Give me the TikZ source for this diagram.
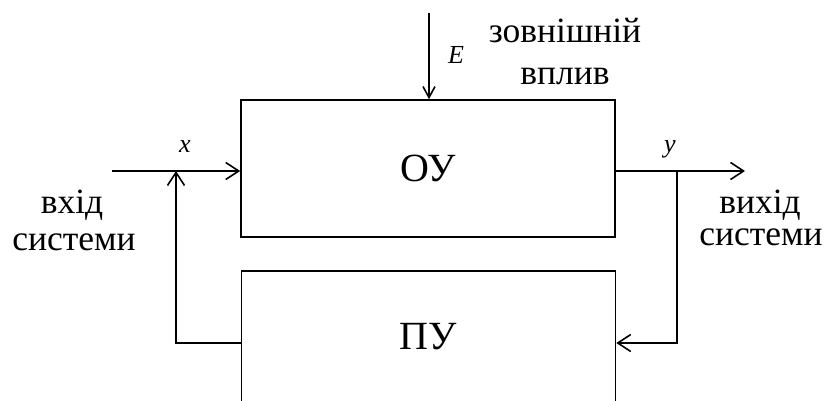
\documentclass[tikz,border=0pt]{standalone}
\usepackage{fontspec}
\setmainfont{Liberation Serif}
\usetikzlibrary{arrows.meta}
\begin{document}
\begin{tikzpicture}[x=1pt,y=-1pt,
  wire/.style={line width=1.6pt},
  arr/.style={wire,-{Straight Barb[length=13pt,width=17pt,line width=1.6pt]}},
  arrsmall/.style={wire,-{Straight Barb[length=11pt,width=12pt,line width=1.6pt]}},
  block/.style={draw,line width=1.6pt,rectangle,minimum width=374pt,inner sep=0pt,
    font=\fontsize{40}{44}\selectfont},
  lbl/.style={font=\fontsize{35.5}{40}\selectfont,anchor=base,inner sep=0pt},
  var/.style={font=\fontsize{26}{30}\selectfont\itshape,anchor=base,inner sep=0pt}]
  \clip (0,0) rectangle (825,401);
  \fill[white] (0,0) rectangle (825,401);

  % controlled object and controller
  \node[block,minimum height=137pt] (ou) at (428,168.5) {ОУ};
  \node[block,minimum height=132pt] (pu) at (428.5,337) {ПУ};

  % junctions and free ends
  \coordinate (xin) at (112,171);
  \coordinate (jx) at (176,171);
  \coordinate (jy) at (677,171);
  \coordinate (yout) at (745,171);
  \coordinate (fb) at (176,343);
  \coordinate (etop) at (429,13);

  % signal paths
  \draw[arr] (xin) -- (xin -| ou.west);
  \draw[arr] (ou.east |- jy) -- (yout);
  \draw[arr] (jy) |- (pu.east |- fb);
  \draw[arr] (pu.west |- fb) -| (jx);
  \draw[arrsmall] (etop) -- (etop |- ou.north);

  % signal names
  \node[var] (lx) at (185,153) {x};
  \node[var] (ly) at (670,153) {y};
  \node[var] (le) at (456,64) {E};

  % descriptive labels
  \node[lbl] (ext1) at (565,43) {зовнішній};
  \node[lbl] (ext2) at (565,85) {вплив};
  \node[lbl] (in1) at (72,214) {вхід};
  \node[lbl] (in2) at (74,250) {системи};
  \node[lbl] (out1) at (760,213) {вихід};
  \node[lbl] (out2) at (761,245) {системи};
\end{tikzpicture}
\end{document}
